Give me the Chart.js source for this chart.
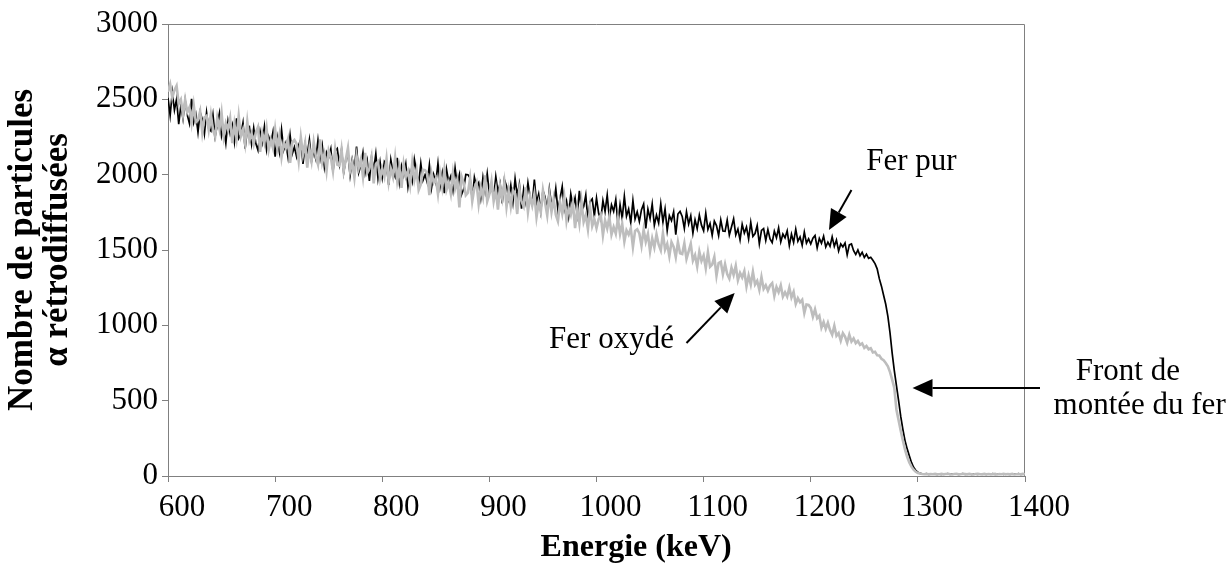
<!DOCTYPE html>
<html>
<head>
<meta charset="utf-8">
<script src="https://cdn.jsdelivr.net/npm/chart.js@4.4.0/dist/chart.umd.min.js"></script>
<style>
  html,body{margin:0;padding:0;background:#fff;}
</style>
</head>
<body>
<canvas id="c" width="1232" height="568"></canvas>
<script>
// channel grid (keV)
const ENERGY_START = 600;
const ENERGY_STEP = 2;

// Fer pur (black), counts every 2 keV from 600 keV
const ferPur = [
  2510,2393,2546,2429,2502,2335,2458,2371,2494,2397,2340,2503,2346,2399,2282,2415,2368,2271,2414,2307,
  2290,2397,2254,2331,2408,2255,2312,2209,2356,2273,2330,2217,2374,2241,2268,2345,2172,2299,2316,2203,
  2310,2206,2162,2288,2214,2320,2166,2252,2208,2284,2120,2246,2152,2298,2164,2210,2116,2262,2138,2184,
  2120,2197,2234,2071,2198,2135,2232,2089,2156,2103,2230,2107,2194,2051,2148,2115,2172,2019,2156,2173,
  2070,2167,2014,2101,2138,1995,2102,2039,2186,2013,2060,2147,2014,2091,1958,2115,2032,2139,1976,2083,
  1980,2087,2065,1932,2100,2017,1985,2112,1950,2057,1995,2072,1920,2017,1955,2102,2020,1937,2075,1962,
  2000,1947,2065,1912,2000,1947,2075,1922,2010,1877,2035,1952,1990,1897,2045,1932,2000,1867,1905,2002,
  2000,1977,1835,1982,1920,1947,1845,1982,1890,2007,1875,1922,1850,1987,1885,1942,1810,1967,1925,1842,
  1930,1817,1974,1861,1938,1775,1902,1819,1946,1853,1800,1967,1814,1871,1758,1895,1852,1759,1906,1803,
  1800,1908,1765,1843,1921,1768,1826,1724,1872,1789,1847,1735,1892,1760,1788,1865,1693,1821,1839,1726,
  1845,1743,1701,1828,1756,1864,1712,1800,1757,1835,1673,1801,1709,1856,1724,1772,1680,1828,1705,1753,
  1690,1768,1805,1643,1771,1708,1806,1664,1732,1679,1807,1685,1772,1630,1728,1695,1753,1601,1739,1756,
  1723,1643,1753,1673,1727,1612,1701,1642,1731,1665,1628,1744,1637,1676,1597,1692,1662,1596,1699,1626,
  1624,1699,1599,1653,1707,1600,1639,1567,1670,1612,1652,1573,1683,1590,1609,1662,1541,1630,1642,1563,
  1636,1574,1549,1625,1581,1646,1554,1606,1581,1627,1529,1605,1550,1638,1558,1587,1531,1619,1546,1574,
  1540,1578,1596,1514,1577,1545,1592,1520,1552,1525,1587,1524,1566,1493,1540,1521,1547,1468,1534,1540,
  1495,1470,1500,1462,1485,1450,1472,1445,1452,1432,1410,1375,1310,1260,1200,1140,1060,950,815,700,
  600,500,395,310,235,180,135,90,58,38,24,17,14,12,15,11,13,14,12,10,
  13,11,14,12,15,10,13,12,14,11,12,15,11,13,14,10,12,13,11,14,
  13,12,10,14,12,15,11,13,12,14,10,13,12,11,14,12,13,15,11,12,
  13
];

// Fer oxydé (grey)
const ferOxyde = [
  2551,2600,2512,2561,2590,2470,2498,2398,2498,2414,2447,2344,2462,2348,2364,2421,2280,2379,2390,2297,
  2400,2296,2252,2378,2304,2410,2256,2342,2298,2374,2210,2336,2242,2388,2254,2300,2206,2352,2228,2274,
  2205,2281,2316,2152,2277,2213,2308,2164,2229,2175,2300,2176,2261,2117,2212,2178,2233,2079,2214,2230,
  2205,2091,2248,2134,2211,2047,2173,2090,2216,2123,2069,2235,2082,2138,2025,2161,2117,2024,2170,2067,
  2060,2167,2024,2101,2178,2025,2082,1979,2126,2043,2100,1987,2144,2011,2038,2115,1942,2069,2086,1973,
  2040,1987,2104,1951,2038,1985,2112,1959,2046,1913,2070,1987,2024,1931,2078,1965,2032,1899,1936,2033,
  2030,2007,1864,2011,1948,1975,1872,2009,1916,2033,1900,1947,1874,2011,1908,1965,1782,1989,1946,1863,
  1880,1977,1824,1911,1948,1805,1912,1849,1996,1823,1870,1957,1824,1901,1768,1925,1842,1949,1786,1893,
  1790,1896,1873,1739,1906,1822,1789,1915,1752,1858,1795,1871,1718,1814,1751,1897,1814,1730,1867,1753,
  1840,1735,1691,1816,1742,1847,1693,1778,1734,1809,1645,1770,1676,1821,1687,1732,1638,1783,1659,1704,
  1645,1704,1731,1598,1697,1644,1719,1602,1653,1608,1707,1606,1673,1556,1631,1602,1645,1520,1627,1638,
  1610,1529,1636,1555,1607,1491,1577,1517,1604,1537,1498,1612,1503,1541,1459,1553,1521,1453,1554,1479,
  1474,1545,1441,1491,1541,1430,1466,1390,1489,1427,1463,1380,1486,1389,1404,1454,1329,1414,1422,1339,
  1406,1340,1310,1383,1335,1395,1299,1348,1318,1360,1258,1330,1271,1355,1271,1295,1236,1320,1242,1266,
  1230,1265,1280,1195,1255,1220,1265,1190,1220,1190,1250,1185,1222,1142,1180,1153,1170,1082,1138,1135,
  1116,1057,1106,1047,1064,985,1022,977,1017,969,938,997,930,948,898,948,926,884,938,892,
  913,882,897,870,880,850,863,841,848,820,824,801,800,778,768,750,728,690,640,585,
  440,370,300,235,175,128,90,62,42,28,20,16,13,12,14,11,13,12,14,11,
  12,14,11,13,15,12,10,13,14,11,12,15,13,11,14,12,10,13,15,12,
  11,14,12,13,11,12,14,10,13,12,15,11,13,12,14,10,12,13,11,14,
  12
];

const xRange = [600, 1400];
const xStep = 100;
const yRange = [0, 3000];
const yStep = 500;
const xTitle = 'Energie (keV)';
const yTitle = ['Nombre de particules', 'α rétrodiffusées'];

// annotations, in data units (keV, counts)
const labels = [
  {text:'Fer pur', x:1294, y:2084},
  {text:'Fer oxydé', x:1014, y:903},
  {text:'Front de', x:1496, y:690},
  {text:'montée du fer', x:1507, y:466}
];
const arrows = [
  {from:[1238,1898], to:[1217,1633]},
  {from:[1084,883], to:[1129,1215]},
  {from:[1414,584], to:[1295,584]}
];
// x title sits a bit right of the plot centre in the original
const xTitleAt = 1037;

const energy = ferPur.map((_, i) => ENERGY_START + i*ENERGY_STEP);
const toPts = arr => arr.map((v, i) => ({x: energy[i], y: v}));

const SERIF = "'Liberation Serif', 'Times New Roman', serif";
Chart.defaults.font.family = SERIF;
Chart.defaults.color = '#000';

// grey frame on top / right of plot
const frame = {
  id:'frame',
  beforeDatasetsDraw(chart){
    const {ctx, chartArea:a} = chart;
    ctx.save();
    ctx.strokeStyle = '#808080';
    ctx.lineWidth = 1;
    ctx.beginPath();
    ctx.moveTo(a.left, a.top + 0.5);
    ctx.lineTo(a.right - 0.5, a.top + 0.5);
    ctx.lineTo(a.right - 0.5, a.bottom);
    ctx.stroke();
    ctx.restore();
  }
};

const notes = {
  id:'notes',
  afterDraw(chart){
    const {ctx} = chart;
    const sx = chart.scales.x, sy = chart.scales.y;
    ctx.save();
    ctx.fillStyle = '#000';
    ctx.strokeStyle = '#000';
    ctx.textAlign = 'center';
    ctx.textBaseline = 'middle';
    ctx.font = 'bold 32px ' + SERIF;
    ctx.fillText(xTitle, sx.getPixelForValue(xTitleAt), sx.bottom - 20);
    ctx.font = '31px ' + SERIF;
    labels.forEach(l => ctx.fillText(l.text, sx.getPixelForValue(l.x), sy.getPixelForValue(l.y)));
    arrows.forEach(a => {
      const x0 = sx.getPixelForValue(a.from[0]), y0 = sy.getPixelForValue(a.from[1]);
      const x1 = sx.getPixelForValue(a.to[0]), y1 = sy.getPixelForValue(a.to[1]);
      const ang = Math.atan2(y1 - y0, x1 - x0);
      const hl = 20, hw = 9;
      const bx = x1 - hl*Math.cos(ang), by = y1 - hl*Math.sin(ang);
      ctx.lineWidth = 2;
      ctx.beginPath();
      ctx.moveTo(x0, y0);
      ctx.lineTo(bx, by);
      ctx.stroke();
      ctx.beginPath();
      ctx.moveTo(x1, y1);
      ctx.lineTo(bx + hw*Math.sin(ang), by - hw*Math.cos(ang));
      ctx.lineTo(bx - hw*Math.sin(ang), by + hw*Math.cos(ang));
      ctx.closePath();
      ctx.fill();
    });
    ctx.restore();
  }
};

new Chart(document.getElementById('c'), {
  type:'line',
  data:{
    datasets:[
      // grey drawn over black, as in the original
      {label:'Fer oxydé', data:toPts(ferOxyde), borderColor:'#bdbdbd', borderWidth:2.6,
       pointRadius:0, tension:0, fill:false},
      {label:'Fer pur', data:toPts(ferPur), borderColor:'#000', borderWidth:1.7,
       pointRadius:0, tension:0, fill:false}
    ]
  },
  options:{
    responsive:false,
    animation:false,
    devicePixelRatio:1,
    layout:{padding:{top:24, right:207, bottom:0, left:0}},
    plugins:{legend:{display:false}, tooltip:{enabled:false}},
    scales:{
      x:{
        type:'linear', min:xRange[0], max:xRange[1],
        ticks:{stepSize:xStep, font:{size:31}, padding:7, labelOffset:14, maxRotation:0, autoSkip:false,
               callback:v => String(v)},
        grid:{drawOnChartArea:false, drawTicks:true, tickLength:6, color:'#808080'},
        border:{color:'#808080'},
        afterFit(s){ s.height = 92; }
      },
      y:{
        min:yRange[0], max:yRange[1],
        ticks:{stepSize:yStep, font:{size:31}, padding:4, callback:v => String(v)},
        grid:{drawOnChartArea:false, drawTicks:true, tickLength:6, color:'#808080'},
        border:{color:'#808080'},
        title:{display:true, text:yTitle,
               font:{size:35, weight:'bold', lineHeight:1.0}, padding:{top:5, bottom:0}},
        afterFit(s){ s.width = 168; }
      }
    }
  },
  plugins:[frame, notes]
});
</script>
</body>
</html>
